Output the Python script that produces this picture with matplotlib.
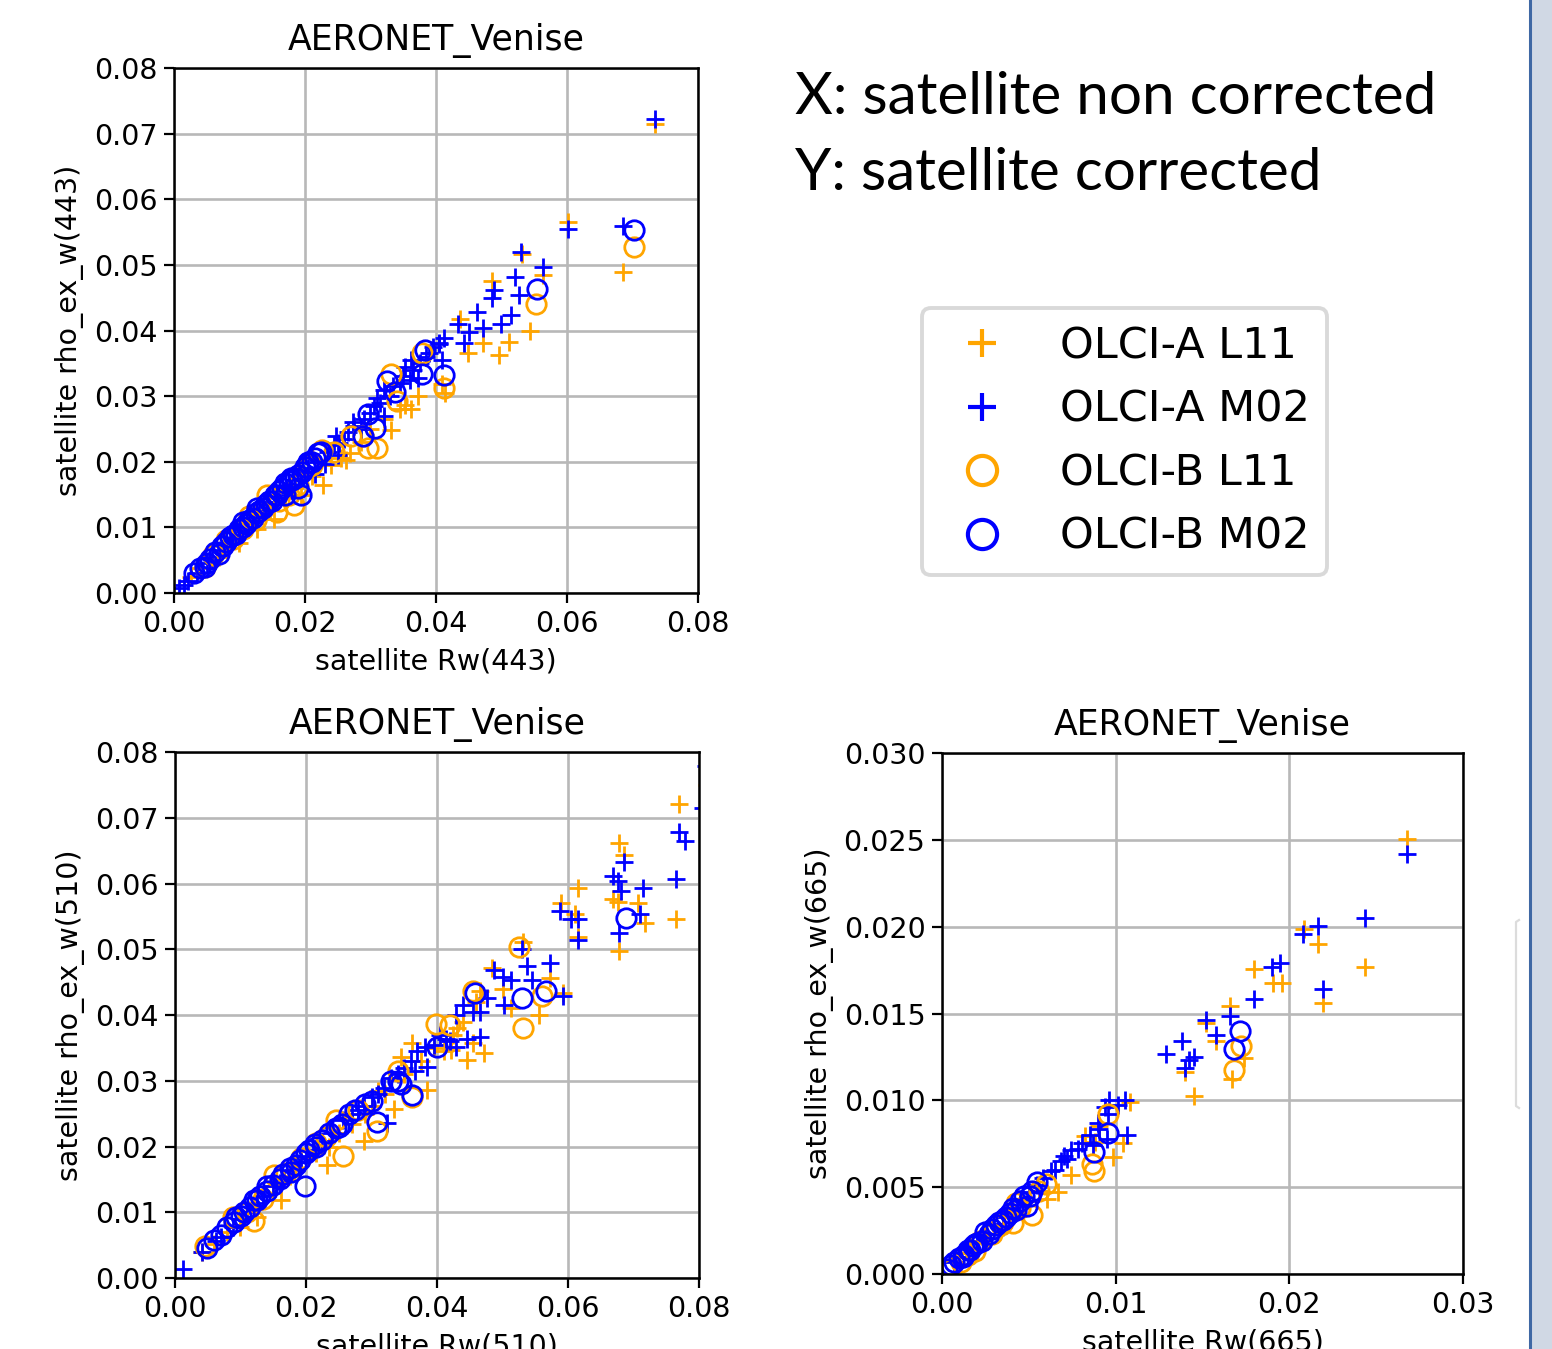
import numpy as np
import matplotlib.pyplot as plt
from matplotlib.patches import Rectangle
from matplotlib.lines import Line2D

plt.rcParams['font.family'] = ['DejaVu Sans']
plt.rcParams['font.size'] = 20.5

site = 'AERONET_Venise'
series = ['OLCI-A L11', 'OLCI-A M02', 'OLCI-B L11', 'OLCI-B M02']
markers = ['+', '+', 'o', 'o']
colors = ['orange', 'blue', 'orange', 'blue']

# ---- 443 nm ----
a_l11_443_x = [0.0734, 0.0602, 0.0686, 0.0531, 0.0563, 0.0485, 0.0543, 0.0511, 0.0496, 0.0449,
               0.0472, 0.0436, 0.0414, 0.0409, 0.0362, 0.0331, 0.0262, 0.0268, 0.0228, 0.0152,
               0.0100, 0.0068, 0.0194, 0.0126, 0.0026, 0.0352, 0.0040, 0.0080, 0.0110, 0.0135,
               0.0170, 0.0185, 0.0210, 0.0240, 0.0255, 0.0285, 0.0300, 0.0320, 0.0345, 0.0372]
a_l11_443_y = [0.0714, 0.0566, 0.0489, 0.0516, 0.0485, 0.0475, 0.0399, 0.0383, 0.0362, 0.0365,
               0.0381, 0.0417, 0.0305, 0.0318, 0.0281, 0.0249, 0.0202, 0.0213, 0.0165, 0.0113,
               0.0076, 0.0055, 0.0150, 0.0097, 0.0024, 0.0286, 0.0038, 0.0072, 0.0098, 0.0118,
               0.0145, 0.0160, 0.0178, 0.0195, 0.0205, 0.0230, 0.0250, 0.0265, 0.0280, 0.0300]
a_m02_443_x = [0.0734, 0.0602, 0.0685, 0.0530, 0.0563, 0.0520, 0.0488, 0.0486, 0.0527, 0.0462,
               0.0433, 0.0514, 0.0499, 0.0472, 0.0451, 0.0443, 0.0412, 0.0404, 0.0409, 0.0362,
               0.0372, 0.0352, 0.0310, 0.0320, 0.0273, 0.0247, 0.0252, 0.0231, 0.0215, 0.0178,
               0.0152, 0.0126, 0.0089, 0.0058, 0.0021, 0.0008, 0.0015, 0.0035, 0.0070, 0.0100,
               0.0115, 0.0160, 0.0195, 0.0235, 0.0260, 0.0275, 0.0290, 0.0305, 0.0330, 0.0345,
               0.0365, 0.0385, 0.0395, 0.0405, 0.0050, 0.0085, 0.0130, 0.0145, 0.0175, 0.0205,
               0.0220, 0.0245, 0.0250, 0.0265, 0.0285, 0.0300, 0.0315, 0.0320, 0.0335, 0.0350,
               0.0360, 0.0375, 0.0390]
a_m02_443_y = [0.0723, 0.0554, 0.0559, 0.0520, 0.0497, 0.0481, 0.0462, 0.0449, 0.0454, 0.0428,
               0.0410, 0.0423, 0.0410, 0.0404, 0.0397, 0.0381, 0.0389, 0.0381, 0.0355, 0.0355,
               0.0328, 0.0344, 0.0297, 0.0270, 0.0260, 0.0239, 0.0228, 0.0197, 0.0181, 0.0165,
               0.0139, 0.0118, 0.0081, 0.0050, 0.0018, 0.0008, 0.0012, 0.0030, 0.0065, 0.0095,
               0.0108, 0.0150, 0.0180, 0.0215, 0.0235, 0.0255, 0.0265, 0.0285, 0.0300, 0.0320,
               0.0340, 0.0360, 0.0375, 0.0380, 0.0045, 0.0080, 0.0125, 0.0135, 0.0162, 0.0190,
               0.0200, 0.0225, 0.0210, 0.0245, 0.0250, 0.0275, 0.0290, 0.0310, 0.0315, 0.0330,
               0.0325, 0.0350, 0.0365]
b_l11_443_x = [0.0703, 0.0553, 0.0412, 0.0378, 0.0331, 0.0341, 0.0310, 0.0297, 0.0289, 0.0226,
               0.0184, 0.0157, 0.0115, 0.0079, 0.0047, 0.0205, 0.0142, 0.0060, 0.0090, 0.0105,
               0.0125, 0.0135, 0.0160, 0.0175, 0.0190, 0.0210, 0.0245, 0.0270]
b_l11_443_y = [0.0528, 0.0441, 0.0313, 0.0365, 0.0334, 0.0292, 0.0221, 0.0221, 0.0239, 0.0218,
               0.0134, 0.0123, 0.0118, 0.0081, 0.0039, 0.0192, 0.0150, 0.0058, 0.0082, 0.0098,
               0.0112, 0.0125, 0.0140, 0.0150, 0.0165, 0.0195, 0.0215, 0.0240]
b_m02_443_x = [0.0703, 0.0555, 0.0412, 0.0383, 0.0326, 0.0338, 0.0378, 0.0297, 0.0307, 0.0289,
               0.0220, 0.0205, 0.0194, 0.0178, 0.0136, 0.0105, 0.0073, 0.0068, 0.0047, 0.0157,
               0.0126, 0.0030, 0.0055, 0.0062, 0.0085, 0.0095, 0.0110, 0.0120, 0.0140, 0.0150,
               0.0165, 0.0170, 0.0185, 0.0195, 0.0210, 0.0215, 0.0040, 0.0050, 0.0075, 0.0080,
               0.0090, 0.0100, 0.0105, 0.0115, 0.0125, 0.0130, 0.0145, 0.0155, 0.0160, 0.0175,
               0.0180, 0.0190, 0.0200, 0.0205, 0.0225, 0.0170, 0.0190]
b_m02_443_y = [0.0553, 0.0464, 0.0332, 0.0370, 0.0323, 0.0307, 0.0334, 0.0273, 0.0252, 0.0239,
               0.0213, 0.0200, 0.0150, 0.0176, 0.0129, 0.0108, 0.0071, 0.0060, 0.0039, 0.0150,
               0.0129, 0.0030, 0.0052, 0.0062, 0.0085, 0.0090, 0.0105, 0.0115, 0.0135, 0.0140,
               0.0160, 0.0168, 0.0175, 0.0185, 0.0200, 0.0205, 0.0038, 0.0045, 0.0072, 0.0078,
               0.0088, 0.0098, 0.0100, 0.0112, 0.0122, 0.0125, 0.0140, 0.0150, 0.0155, 0.0170,
               0.0172, 0.0180, 0.0192, 0.0198, 0.0215, 0.0150, 0.0160]

# ---- 510 nm ----
a_l11_510_x = [0.0812, 0.0770, 0.0678, 0.0686, 0.0668, 0.0676, 0.0615, 0.0589, 0.0610, 0.0615,
               0.0707, 0.0718, 0.0765, 0.0678, 0.0531, 0.0573, 0.0592, 0.0555, 0.0513, 0.0484,
               0.0466, 0.0471, 0.0445, 0.0455, 0.0421, 0.0361, 0.0345, 0.0385, 0.0335, 0.0288,
               0.0232, 0.0235, 0.0162, 0.0125, 0.0041, 0.0193, 0.0099, 0.0270, 0.0300, 0.0320,
               0.0395, 0.0430, 0.0500, 0.0150, 0.0060, 0.0080, 0.0120, 0.0175, 0.0215, 0.0250,
               0.0290, 0.0310, 0.0350, 0.0375, 0.0410, 0.0425, 0.0440, 0.0460]
a_l11_510_y = [0.0750, 0.0721, 0.0662, 0.0644, 0.0577, 0.0572, 0.0593, 0.0570, 0.0554, 0.0519,
               0.0570, 0.0540, 0.0546, 0.0498, 0.0511, 0.0456, 0.0434, 0.0400, 0.0411, 0.0472,
               0.0437, 0.0342, 0.0331, 0.0358, 0.0347, 0.0358, 0.0336, 0.0286, 0.0257, 0.0209,
               0.0172, 0.0199, 0.0119, 0.0093, 0.0040, 0.0183, 0.0077, 0.0235, 0.0262, 0.0280,
               0.0350, 0.0380, 0.0440, 0.0140, 0.0052, 0.0070, 0.0105, 0.0155, 0.0190, 0.0220,
               0.0250, 0.0285, 0.0310, 0.0330, 0.0345, 0.0370, 0.0390, 0.0420]
a_m02_510_x = [0.0770, 0.0778, 0.0806, 0.0810, 0.0686, 0.0668, 0.0676, 0.0681, 0.0715, 0.0765,
               0.0710, 0.0678, 0.0587, 0.0605, 0.0615, 0.0615, 0.0529, 0.0537, 0.0573, 0.0592,
               0.0500, 0.0487, 0.0513, 0.0545, 0.0476, 0.0502, 0.0466, 0.0440, 0.0429, 0.0445,
               0.0466, 0.0429, 0.0413, 0.0382, 0.0385, 0.0366, 0.0329, 0.0319, 0.0324, 0.0288,
               0.0256, 0.0225, 0.0193, 0.0167, 0.0125, 0.0088, 0.0062, 0.0041, 0.0012, 0.0210,
               0.0270, 0.0300, 0.0350, 0.0150, 0.0110, 0.0070, 0.0100, 0.0135, 0.0160, 0.0180,
               0.0200, 0.0240, 0.0280, 0.0310, 0.0340, 0.0360, 0.0370, 0.0395, 0.0405, 0.0420,
               0.0455]
a_m02_510_y = [0.0678, 0.0665, 0.0715, 0.0779, 0.0633, 0.0612, 0.0604, 0.0588, 0.0593, 0.0607,
               0.0554, 0.0525, 0.0559, 0.0546, 0.0546, 0.0514, 0.0501, 0.0474, 0.0479, 0.0429,
               0.0458, 0.0469, 0.0453, 0.0453, 0.0426, 0.0416, 0.0405, 0.0416, 0.0400, 0.0363,
               0.0366, 0.0352, 0.0363, 0.0352, 0.0321, 0.0315, 0.0305, 0.0289, 0.0236, 0.0262,
               0.0241, 0.0209, 0.0177, 0.0151, 0.0114, 0.0077, 0.0056, 0.0040, 0.0013, 0.0195,
               0.0250, 0.0275, 0.0320, 0.0140, 0.0100, 0.0062, 0.0090, 0.0125, 0.0145, 0.0165,
               0.0185, 0.0220, 0.0255, 0.0280, 0.0310, 0.0330, 0.0345, 0.0355, 0.0370, 0.0360,
               0.0405]
b_l11_510_x = [0.0525, 0.0531, 0.0560, 0.0455, 0.0398, 0.0340, 0.0361, 0.0308, 0.0256, 0.0246,
               0.0193, 0.0120, 0.0088, 0.0046, 0.0151, 0.0110, 0.0135, 0.0170, 0.0215, 0.0230,
               0.0280, 0.0420]
b_l11_510_y = [0.0503, 0.0381, 0.0429, 0.0437, 0.0387, 0.0315, 0.0276, 0.0223, 0.0185, 0.0241,
               0.0183, 0.0087, 0.0093, 0.0048, 0.0156, 0.0100, 0.0120, 0.0160, 0.0205, 0.0215,
               0.0255, 0.0385]
b_m02_510_x = [0.0689, 0.0566, 0.0529, 0.0458, 0.0400, 0.0361, 0.0308, 0.0340, 0.0251, 0.0214,
               0.0198, 0.0177, 0.0141, 0.0120, 0.0093, 0.0049, 0.0080, 0.0105, 0.0130, 0.0160,
               0.0185, 0.0200, 0.0225, 0.0235, 0.0265, 0.0290, 0.0060, 0.0070, 0.0090, 0.0100,
               0.0115, 0.0125, 0.0140, 0.0150, 0.0165, 0.0175, 0.0190, 0.0205, 0.0215, 0.0245,
               0.0255, 0.0275, 0.0300, 0.0330, 0.0345]
b_m02_510_y = [0.0548, 0.0437, 0.0426, 0.0434, 0.0352, 0.0278, 0.0238, 0.0299, 0.0230, 0.0204,
               0.0140, 0.0162, 0.0140, 0.0119, 0.0093, 0.0045, 0.0078, 0.0100, 0.0125, 0.0150,
               0.0172, 0.0190, 0.0210, 0.0220, 0.0250, 0.0265, 0.0058, 0.0065, 0.0085, 0.0095,
               0.0108, 0.0118, 0.0132, 0.0142, 0.0158, 0.0168, 0.0180, 0.0195, 0.0200, 0.0228,
               0.0235, 0.0255, 0.0270, 0.0300, 0.0295]

# ---- 665 nm ----
a_l11_665_x = [0.02676, 0.02434, 0.02166, 0.02196, 0.02086, 0.01798, 0.01907, 0.01957, 0.01659, 0.01520,
               0.01580, 0.01401, 0.01450, 0.01669, 0.01739, 0.01043, 0.00984, 0.00904, 0.00825, 0.00745,
               0.00666, 0.00606, 0.00348, 0.01083, 0.00500, 0.00420, 0.00260, 0.00150, 0.00560, 0.00880]
a_l11_665_y = [0.02504, 0.01770, 0.01900, 0.01559, 0.01986, 0.01756, 0.01675, 0.01675, 0.01545, 0.01445,
               0.01344, 0.01164, 0.01023, 0.01124, 0.01244, 0.00752, 0.00672, 0.00853, 0.00793, 0.00572,
               0.00472, 0.00431, 0.00271, 0.00993, 0.00420, 0.00350, 0.00210, 0.00120, 0.00480, 0.00760]
a_m02_665_x = [0.02676, 0.02434, 0.02166, 0.02080, 0.02196, 0.01947, 0.01897, 0.01798, 0.01659, 0.01520,
               0.01580, 0.01381, 0.01291, 0.01421, 0.01450, 0.01397, 0.01053, 0.01013, 0.01063, 0.00954,
               0.00904, 0.00805, 0.00745, 0.00685, 0.00626, 0.00546, 0.00447, 0.00348, 0.00248, 0.00149,
               0.00070, 0.00950, 0.00870, 0.00720, 0.00100, 0.00200, 0.00300, 0.00400, 0.00500, 0.00580,
               0.00650, 0.00700, 0.00780, 0.00850, 0.00900, 0.00940, 0.00960]
a_m02_665_y = [0.02418, 0.02051, 0.02006, 0.01956, 0.01639, 0.01790, 0.01766, 0.01585, 0.01485, 0.01465,
               0.01375, 0.01344, 0.01264, 0.01234, 0.01250, 0.01184, 0.01003, 0.00973, 0.00803, 0.00923,
               0.00833, 0.00752, 0.00712, 0.00652, 0.00592, 0.00512, 0.00431, 0.00331, 0.00231, 0.00150,
               0.00070, 0.00780, 0.00740, 0.00660, 0.00100, 0.00190, 0.00290, 0.00380, 0.00470, 0.00550,
               0.00600, 0.00680, 0.00720, 0.00800, 0.00870, 0.00960, 0.01000]
b_l11_665_x = [0.01679, 0.01719, 0.00954, 0.00874, 0.00864, 0.00517, 0.00427, 0.00407, 0.00288, 0.00189,
               0.00109, 0.00050, 0.00340, 0.00600, 0.00150, 0.00220, 0.00350, 0.00450, 0.00560]
b_l11_665_y = [0.01174, 0.01314, 0.00923, 0.00592, 0.00632, 0.00341, 0.00411, 0.00291, 0.00231, 0.00130,
               0.00070, 0.00030, 0.00280, 0.00520, 0.00110, 0.00190, 0.00300, 0.00380, 0.00480]
b_m02_665_x = [0.01715, 0.01679, 0.00954, 0.00874, 0.00546, 0.00507, 0.00487, 0.00427, 0.00348, 0.00268,
               0.00189, 0.00129, 0.00070, 0.00030, 0.00228, 0.00390, 0.00310, 0.00160, 0.00100, 0.00150,
               0.00200, 0.00250, 0.00290, 0.00330, 0.00370, 0.00410, 0.00450, 0.00470, 0.00520, 0.00050,
               0.00120, 0.00180]
b_m02_665_y = [0.01399, 0.01294, 0.00813, 0.00702, 0.00532, 0.00451, 0.00391, 0.00371, 0.00311, 0.00231,
               0.00171, 0.00110, 0.00070, 0.00030, 0.00191, 0.00350, 0.00280, 0.00140, 0.00090, 0.00140,
               0.00180, 0.00240, 0.00260, 0.00300, 0.00330, 0.00380, 0.00420, 0.00450, 0.00480, 0.00050,
               0.00100, 0.00160]

xticks_08 = [0.00, 0.02, 0.04, 0.06, 0.08]
yticks_08 = [0.00, 0.01, 0.02, 0.03, 0.04, 0.05, 0.06, 0.07, 0.08]
xticks_03 = [0.00, 0.01, 0.02, 0.03]
yticks_03 = [0.000, 0.005, 0.010, 0.015, 0.020, 0.025, 0.030]


def panel(ax, xs, ys, lim, xt, yt, xfmt, yfmt, xlabel, ylabel):
    for x, y, m, c, lab in zip(xs, ys, markers, colors, series):
        ms = 13 if m == '+' else 14
        ax.plot(x, y, ls='', marker=m, ms=ms, mew=2, mfc='none', mec=c, label=lab)
    ax.set_xlim(0, lim)
    ax.set_ylim(0, lim)
    ax.set_xticks(xt)
    ax.set_yticks(yt)
    ax.set_xticklabels([xfmt % v for v in xt])
    ax.set_yticklabels([yfmt % v for v in yt])
    ax.grid(True, color='#b8b8b8', lw=1.9)
    ax.set_axisbelow(True)
    for s in ax.spines.values():
        s.set_linewidth(1.8)
    ax.tick_params(length=7, width=1.6, pad=5)
    ax.set_title(site, fontsize=25, pad=13)
    ax.set_xlabel(xlabel, labelpad=7)
    ax.set_ylabel(ylabel, labelpad=7)


fig = plt.figure(figsize=(15.52, 13.49), dpi=100)
ax1 = fig.add_axes([0.1121, 0.5604, 0.3376, 0.3892])
ax2 = fig.add_axes([0.1128, 0.0526, 0.3376, 0.3899])
ax3 = fig.add_axes([0.6070, 0.0556, 0.3357, 0.3862])

panel(ax1, [a_l11_443_x, a_m02_443_x, b_l11_443_x, b_m02_443_x],
      [a_l11_443_y, a_m02_443_y, b_l11_443_y, b_m02_443_y],
      0.08, xticks_08, yticks_08, '%.2f', '%.2f', 'satellite Rw(443)', 'satellite rho_ex_w(443)')
panel(ax2, [a_l11_510_x, a_m02_510_x, b_l11_510_x, b_m02_510_x],
      [a_l11_510_y, a_m02_510_y, b_l11_510_y, b_m02_510_y],
      0.08, xticks_08, yticks_08, '%.2f', '%.2f', 'satellite Rw(510)', 'satellite rho_ex_w(510)')
panel(ax3, [a_l11_665_x, a_m02_665_x, b_l11_665_x, b_m02_665_x],
      [a_l11_665_y, a_m02_665_y, b_l11_665_y, b_m02_665_y],
      0.03, xticks_03, yticks_03, '%.2f', '%.3f', 'satellite Rw(665)', 'satellite rho_ex_w(665)')

h, l = ax1.get_legend_handles_labels()
leg = fig.legend(h, l, loc='upper left', bbox_to_anchor=(922 / 1552, 1 - 308 / 1349),
                 borderaxespad=0, fontsize=31, markerscale=1.5, frameon=True)
leg.get_frame().set_linewidth(2.8)
leg.get_frame().set_edgecolor('#d0d0d0')
for hd in leg.legend_handles:
    hd.set_markeredgewidth(3)

fig.text(795 / 1552, 1 - 97 / 1349, 'X: satellite non corrected', fontsize=42,
         family=['Lato', 'DejaVu Sans'], va='center', ha='left')
fig.text(795 / 1552, 1 - 173 / 1349, 'Y: satellite corrected', fontsize=42,
         family=['Lato', 'DejaVu Sans'], va='center', ha='left')

# slide edge visible at the right of the screenshot
fig.patches.append(Rectangle((1531 / 1552, 0), 21 / 1552, 1, transform=fig.transFigure,
                             facecolor='#d0d8e4', edgecolor='none'))
fig.lines.append(Line2D([1530 / 1552, 1530 / 1552], [0, 1], transform=fig.transFigure,
                        color='#3f68a4', lw=2.2))
fig.lines.append(Line2D([1519 / 1552, 1516 / 1552, 1516 / 1552, 1519 / 1552],
                        [1 - 920 / 1349, 1 - 922 / 1349, 1 - 1106 / 1349, 1 - 1108 / 1349],
                        transform=fig.transFigure, color='#dcdcdc', lw=1.6))

fig.savefig('out.png', dpi=100)
